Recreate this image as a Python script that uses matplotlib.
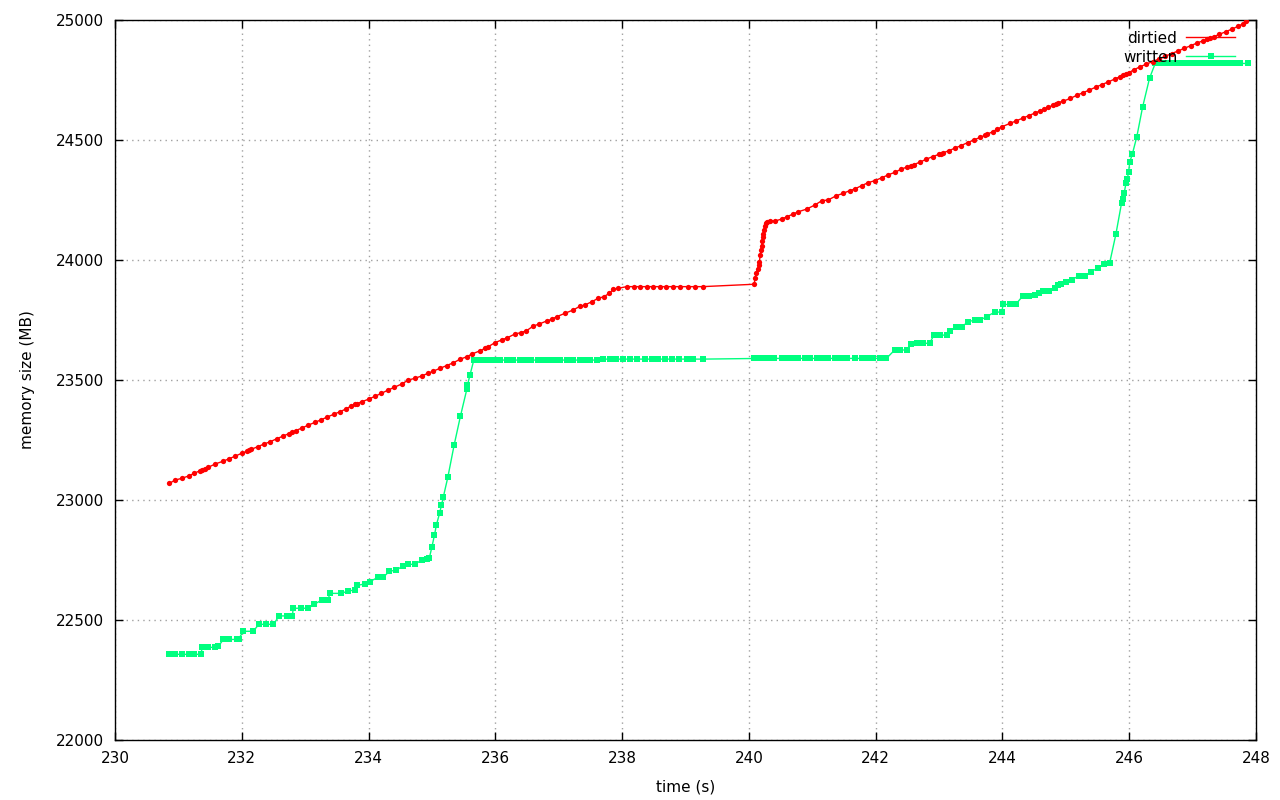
import matplotlib
matplotlib.use("Agg")
import matplotlib.pyplot as plt
from matplotlib.lines import Line2D

# ---- data ----
dirtied_t = [230.857, 230.947, 231.05, 231.16, 231.25, 231.34, 231.38, 231.42, 231.47, 231.58, 231.71,
             231.8, 231.9, 232.0, 232.08, 232.12, 232.15, 232.25, 232.35, 232.45, 232.55, 232.65,
             232.75, 232.8, 232.85, 232.95, 233.05, 233.15, 233.25, 233.35, 233.45, 233.55, 233.65,
             233.72, 233.78, 233.82, 233.9, 234.0, 234.1, 234.2, 234.3, 234.4, 234.52, 234.63, 234.73,
             234.84, 234.94, 235.02, 235.13, 235.23, 235.34, 235.44, 235.55, 235.63, 235.76, 235.84,
             235.89, 235.99, 236.1, 236.19, 236.31, 236.4, 236.49, 236.6, 236.69, 236.81, 236.89,
             236.97, 237.1, 237.23, 237.34, 237.41, 237.52, 237.62, 237.71, 237.8, 237.86, 237.94,
             238.07, 238.18, 238.28, 238.39, 238.49, 238.6, 238.7, 238.81, 238.91, 239.04, 239.15,
             239.27, 240.085, 240.096, 240.12, 240.14, 240.155, 240.165, 240.18, 240.19, 240.2,
             240.21, 240.22, 240.23, 240.24, 240.25, 240.27, 240.28, 240.33, 240.41, 240.52, 240.6,
             240.7, 240.78, 240.91, 241.04, 241.15, 241.25, 241.38, 241.49, 241.59, 241.67, 241.78,
             241.88, 241.99, 242.1, 242.2, 242.3, 242.4, 242.5, 242.55, 242.6, 242.7, 242.8, 242.9,
             243.0, 243.03, 243.07, 243.15, 243.25, 243.35, 243.45, 243.55, 243.65, 243.72, 243.76,
             243.85, 243.92, 243.99, 244.12, 244.22, 244.32, 244.42, 244.52, 244.6, 244.65, 244.72,
             244.8, 244.85, 244.88, 244.95, 245.07, 245.17, 245.27, 245.37, 245.47, 245.57, 245.67,
             245.77, 245.85, 245.9, 245.95, 245.99, 246.07, 246.17, 246.27, 246.37, 246.47, 246.57,
             246.67, 246.77, 246.87, 246.97, 247.07, 247.17, 247.22, 247.28, 247.33, 247.42, 247.52,
             247.62, 247.72, 247.8, 247.85]
dirtied_mb = [23069, 23083, 23090, 23100, 23111, 23122, 23127, 23131, 23136, 23150, 23162,
              23172, 23183, 23195, 23203, 23208, 23211, 23222, 23233, 23243, 23255, 23266,
              23277, 23283, 23289, 23300, 23312, 23323, 23334, 23346, 23357, 23368, 23380,
              23391, 23398, 23402, 23410, 23420, 23432, 23444, 23457, 23469, 23483, 23500, 23507,
              23517, 23528, 23537, 23549, 23560, 23572, 23586, 23597, 23608, 23622, 23632,
              23639, 23655, 23667, 23676, 23692, 23697, 23705, 23725, 23733, 23746, 23753,
              23764, 23778, 23792, 23808, 23812, 23826, 23840, 23847, 23861, 23878, 23882,
              23889, 23889, 23889, 23889, 23889, 23889, 23889, 23889, 23889, 23889, 23889,
              23889, 23899, 23926, 23945, 23961, 23980, 23993, 24020, 24040, 24060,
              24080, 24095, 24110, 24125, 24140, 24155, 24160, 24164, 24162, 24171, 24180,
              24192, 24201, 24212, 24229, 24247, 24250, 24268, 24278, 24289, 24296, 24310,
              24322, 24331, 24343, 24355, 24365, 24378, 24388, 24392, 24397, 24408, 24420, 24431,
              24440, 24443, 24447, 24455, 24466, 24477, 24489, 24500, 24511, 24519, 24524,
              24535, 24545, 24555, 24569, 24580, 24591, 24602, 24613, 24622, 24628, 24636,
              24645, 24652, 24656, 24661, 24673, 24686, 24697, 24708, 24720, 24731, 24742,
              24754, 24764, 24770, 24776, 24780, 24792, 24805, 24816, 24827, 24838, 24849,
              24860, 24871, 24882, 24893, 24904, 24914, 24919, 24925, 24930, 24940, 24951,
              24962, 24974, 24985, 24995]

written_t = [230.857, 230.947, 231.05, 231.16, 231.25, 231.35, 231.38, 231.47, 231.58, 231.63,
             231.71, 231.8, 231.92, 231.95, 232.02, 232.18, 232.27, 232.39, 232.5, 232.59, 232.71,
             232.8, 232.81, 232.94, 233.05, 233.14, 233.26, 233.36, 233.39, 233.57, 233.68, 233.79,
             233.81, 233.94, 234.02, 234.15, 234.23, 234.33, 234.44, 234.54, 234.63, 234.73, 234.84,
             234.92, 234.96, 235.0, 235.04, 235.07, 235.12, 235.15, 235.18, 235.25, 235.35, 235.45,
             235.55, 235.56, 235.6, 235.66, 235.73, 235.78, 235.84, 235.89, 235.94, 235.99, 236.07,
             236.18, 236.28, 236.39, 236.49, 236.57, 236.68, 236.76, 236.84, 236.94, 237.02, 237.13,
             237.23, 237.34, 237.42, 237.49, 237.6, 237.7, 237.81, 237.91, 238.02, 238.12, 238.23,
             238.36, 238.47, 238.57, 238.68, 238.78, 238.89, 239.02, 239.12, 239.27,
             240.085, 240.12, 240.15, 240.19, 240.23, 240.27, 240.3, 240.4, 240.52, 240.6, 240.7,
             240.78, 240.89, 240.96, 241.07, 241.17, 241.25, 241.36, 241.46, 241.54, 241.67, 241.78,
             241.88, 241.96, 242.07, 242.17, 242.3, 242.38, 242.49, 242.55, 242.65, 242.75, 242.85,
             242.92, 243.01, 243.12, 243.17, 243.27, 243.36, 243.46, 243.57, 243.65, 243.75, 243.88,
             243.99, 244.01, 244.12, 244.21, 244.32, 244.42, 244.51, 244.57, 244.64, 244.74, 244.83,
             244.88, 244.93, 245.01, 245.09, 245.2, 245.3, 245.39, 245.5, 245.6, 245.69, 245.79,
             245.88, 245.9, 245.92, 245.95, 245.97, 245.99, 246.01, 246.05, 246.12, 246.21, 246.32,
             246.41, 246.49, 246.57, 246.64, 246.72, 246.8, 246.88, 246.96, 247.04, 247.12, 247.2,
             247.27, 247.35, 247.43, 247.51, 247.59, 247.67, 247.75, 247.88]
written_mb = [22357, 22357, 22357, 22357, 22357, 22357, 22386, 22386, 22386, 22390,
              22419, 22419, 22419, 22419, 22453, 22453, 22482, 22482, 22482, 22517, 22517,
              22517, 22549, 22549, 22549, 22565, 22583, 22583, 22611, 22611, 22621, 22625,
              22644, 22650, 22660, 22678, 22678, 22703, 22708, 22725, 22732, 22732, 22750,
              22754, 22760, 22805, 22854, 22896, 22944, 22979, 23014, 23094, 23229, 23350,
              23461, 23479, 23521, 23583, 23583, 23583, 23583, 23583, 23583, 23583, 23583,
              23583, 23583, 23583, 23583, 23583, 23583, 23583, 23583, 23583, 23583, 23583,
              23583, 23583, 23583, 23583, 23583, 23587, 23587, 23587, 23587, 23587, 23587,
              23587, 23587, 23587, 23587, 23587, 23587, 23587, 23587, 23587,
              23590, 23590, 23590, 23590, 23590, 23590, 23590, 23590, 23590, 23590, 23590,
              23590, 23590, 23590, 23590, 23590, 23590, 23590, 23590, 23590, 23590, 23590,
              23590, 23590, 23590, 23590, 23625, 23625, 23625, 23649, 23653, 23653, 23653,
              23687, 23687, 23687, 23705, 23722, 23722, 23743, 23750, 23750, 23764, 23783,
              23783, 23815, 23815, 23815, 23850, 23850, 23854, 23861, 23872, 23872, 23882,
              23896, 23900, 23907, 23917, 23933, 23933, 23951, 23965, 23983, 23986, 24108,
              24239, 24253, 24278, 24322, 24336, 24368, 24410, 24442, 24514, 24636, 24757,
              24819, 24819, 24819, 24819, 24819, 24819, 24819, 24819, 24819, 24819, 24819,
              24819, 24819, 24819, 24819, 24819, 24819, 24819, 24819]

x_ticks = [230, 232, 234, 236, 238, 240, 242, 244, 246, 248]
y_ticks = [22000, 22500, 23000, 23500, 24000, 24500, 25000]
series_labels = ["dirtied", "written"]

RED = "#ff0000"
GREEN = "#00ff7f"

plt.rcParams['font.family'] = ['DejaVu Sans']
fig = plt.figure(figsize=(12.8, 8.0), dpi=100)
ax = fig.add_axes([115/1280, 60/800, (1256-115)/1280, 720/800])

ax.plot(dirtied_t, dirtied_mb, color=RED, lw=1, marker='o', ms=3.8,
        markeredgewidth=0, zorder=3)
ax.plot(written_t, written_mb, color=GREEN, lw=1, marker='s', ms=4.2,
        markeredgewidth=0, zorder=2)

ax.set_xlim(230, 248)
ax.set_ylim(22000, 25000)
ax.set_xticks(x_ticks)
ax.set_yticks(y_ticks)
ax.tick_params(direction='in', length=6, width=1, top=True, right=True,
               labelsize=11, colors='black')
ax.tick_params(axis='x', pad=8)
ax.tick_params(axis='y', pad=8)
ax.grid(True, color='#a0a0a0', linestyle=(0, (1, 3)), linewidth=1)
for s in ax.spines.values():
    s.set_linewidth(1)
ax.set_xlabel("time (s)", fontsize=11, labelpad=10)
ax.set_ylabel("memory size (MB)", fontsize=11, labelpad=15)

handles = [Line2D([], [], color=RED, lw=1),
           Line2D([], [], color=GREEN, lw=1, marker='s', ms=4.2, markeredgewidth=0)]
leg = ax.legend(handles, series_labels, loc='upper right', frameon=False,
                bbox_to_anchor=(0.9912, 1.0),
                markerfirst=False, fontsize=11, handlelength=3.2, numpoints=1,
                borderaxespad=0.3, labelspacing=0.25, handletextpad=0.6)
for t in leg.get_texts():
    t.set_ha('right')

fig.savefig("out.png", dpi=100)
